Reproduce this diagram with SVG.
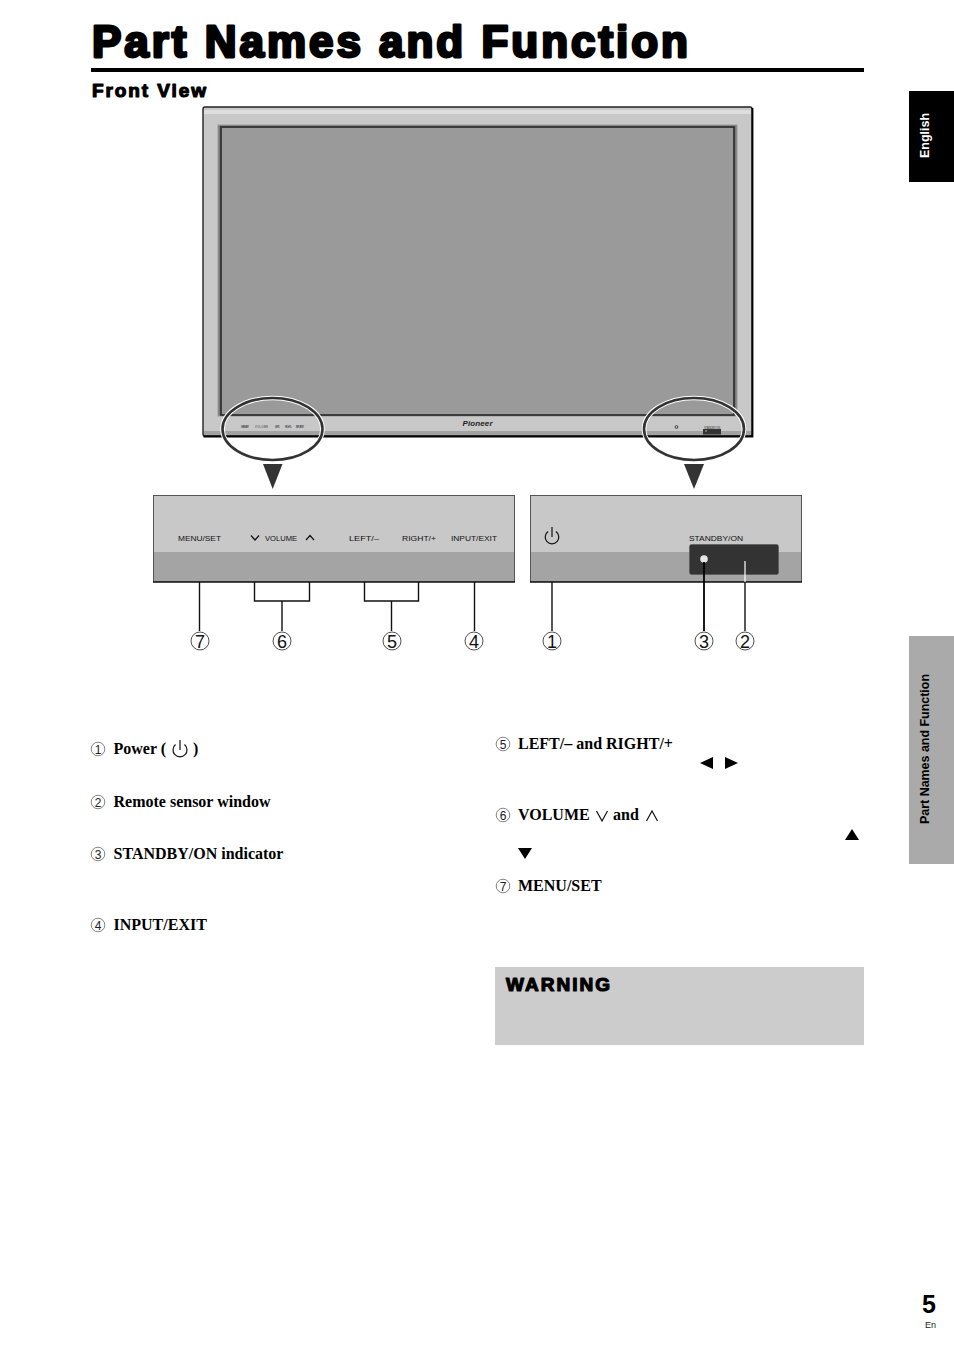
<svg xmlns="http://www.w3.org/2000/svg" width="954" height="1351" viewBox="0 0 954 1351">
<style>
.h{font-family:"Liberation Sans",Arial,sans-serif;font-weight:700;fill:#000;stroke:#000;stroke-linejoin:round}
.b{font-family:"Liberation Serif","Times New Roman",serif;font-weight:700;font-size:16px;fill:#000}
.p{font-family:"Liberation Sans",Arial,sans-serif;font-size:8px;fill:#111}
.t{font-family:"Liberation Sans",Arial,sans-serif;font-size:2.6px;fill:#333}
.n{font-family:"Liberation Sans",Arial,sans-serif;font-size:18px;fill:#111;text-anchor:middle}
.m{font-family:"Liberation Sans",Arial,sans-serif;font-size:12px;fill:#222;text-anchor:middle}
.c{fill:#fff;stroke:#222;stroke-width:.8}
.mc{fill:#fff;stroke:#333;stroke-width:.6}
.l{fill:none;stroke:#111;stroke-width:1.4}
.i{fill:none;stroke:#111;stroke-width:1.2}
.r{fill:none;stroke:#333;stroke-width:2.6}
.w{fill:none;stroke:#fff;stroke-width:4.6}
.s{font-family:"Liberation Sans",Arial,sans-serif;font-weight:700}
</style>
<rect width="954" height="1351" fill="#fff"/>

<g id="heading">
<text class="h" x="92" y="56.500" font-size="44" stroke-width="2.800" textLength="596" lengthAdjust="spacing">Part Names and Function</text>
<rect x="91" y="68" width="773" height="4" fill="#000"/>
<text class="h" x="92" y="97" font-size="19" stroke-width="1.200" textLength="114" lengthAdjust="spacing">Front View</text>
</g>

<g id="side-tabs">
<rect x="909" y="91" width="45" height="91" fill="#000"/>
<text class="s" transform="translate(928.500 158) rotate(-90)" font-size="13" fill="#fff" textLength="45" lengthAdjust="spacingAndGlyphs">English</text>
<rect x="909" y="636" width="45" height="228" fill="#aaa"/>
<text class="s" transform="translate(928.500 824) rotate(-90)" font-size="13" fill="#000" textLength="150" lengthAdjust="spacingAndGlyphs">Part Names and Function</text>
</g>

<g id="tv">
<rect x="203" y="107" width="549" height="329" rx="2" fill="#c8c8c8" stroke="#222" stroke-width="1.400"/>
<rect x="204" y="110" width="547" height="4" fill="#dedede"/>
<rect x="204" y="431" width="547" height="4" fill="#a2a2a2"/>
<path d="M203.500 436.500H752.500V108" fill="none" stroke="#000" stroke-width="1.800"/>
<rect x="218" y="125" width="519" height="291" fill="#777" stroke="#999" stroke-width="1"/>
<rect x="221" y="127" width="513" height="288" fill="#9a9a9a" stroke="#333" stroke-width="1.800"/>
<text class="t" x="241" y="428" textLength="8">MENU/SET</text>
<text class="t" x="255" y="428" textLength="13">VOLUME</text>
<text class="t" x="275" y="428" textLength="5">LEFT/–</text>
<text class="t" x="285" y="428" textLength="7">RIGHT/+</text>
<text class="t" x="296" y="428" textLength="8">INPUT/EXIT</text>
<text x="477.500" y="426" font-family="Liberation Sans,Arial,sans-serif" font-size="8" font-weight="700" font-style="italic" text-anchor="middle" fill="#222" textLength="30">Pioneer</text>
<circle cx="676.500" cy="427" r="1.400" fill="none" stroke="#222" stroke-width=".8"/>
<text class="t" x="704" y="428.500" textLength="16">STANDBY/ON</text>
<rect x="703" y="429" width="18" height="5.500" fill="#333"/>
<circle cx="706" cy="431" r=".7" fill="#ddd"/>
</g>

<g id="callout-left">
<ellipse class="w" cx="272.500" cy="429" rx="50" ry="31"/>
<ellipse class="r" cx="272.500" cy="429" rx="50" ry="31"/>
<path d="M263 464H282.500L272.700 489Z" fill="#333"/>
</g>
<g id="callout-right">
<ellipse class="w" cx="694" cy="429" rx="50" ry="31"/>
<ellipse class="r" cx="694" cy="429" rx="50" ry="31"/>
<path d="M684 464H704L694 489Z" fill="#333"/>
</g>

<g id="panel-left">
<rect x="153.500" y="495.500" width="361" height="86" fill="#c8c8c8" stroke="#555" stroke-width="1"/>
<rect x="154" y="552" width="360" height="29.500" fill="#a4a4a4"/>
<path d="M153 582H515" stroke="#111" stroke-width="1.500"/>
<text class="p" x="178" y="541" textLength="43" lengthAdjust="spacingAndGlyphs">MENU/SET</text>
<path d="M251 535.500L255 540L259 535.500M306 540L310 535.500L314 540" class="i"/>
<text class="p" x="265" y="541" textLength="32" lengthAdjust="spacingAndGlyphs">VOLUME</text>
<text class="p" x="349" y="541" textLength="30" lengthAdjust="spacingAndGlyphs">LEFT/–</text>
<text class="p" x="402" y="541" textLength="34" lengthAdjust="spacingAndGlyphs">RIGHT/+</text>
<text class="p" x="451" y="541" textLength="46" lengthAdjust="spacingAndGlyphs">INPUT/EXIT</text>
</g>

<g id="panel-right">
<rect x="530.500" y="495.500" width="271" height="86" fill="#c8c8c8" stroke="#555" stroke-width="1"/>
<rect x="531" y="552" width="270" height="29.500" fill="#a4a4a4"/>
<path d="M530 582H802" stroke="#111" stroke-width="1.500"/>
<path d="M548 531.500A6.800 6.800 0 1 0 556 531.500M552 527V537" class="i"/>
<text class="p" x="689" y="541" textLength="54" lengthAdjust="spacingAndGlyphs">STANDBY/ON</text>
<rect x="689.500" y="544.500" width="89" height="30" rx="2" fill="#333" stroke="#555" stroke-width=".6"/>
<circle cx="704" cy="559" r="3.800" fill="#e6e6e6"/>
</g>

<g id="connectors">
<path class="l" d="M199.500 582V631"/>
<path class="l" d="M254.500 582V601H309.500V582M282 601V631"/>
<path class="l" d="M364.500 582V601H418.500V582M391.500 601V631"/>
<path class="l" d="M474.500 582V631"/>
<path class="l" d="M552 582V631"/>
<path d="M704 562V631" fill="none" stroke="#000" stroke-width="1.800"/>
<path d="M745 561V582" fill="none" stroke="#fff" stroke-width="1.200"/>
<path class="l" d="M745 582V631"/>
</g>

<g id="callout-7"><circle class="c" cx="200" cy="641" r="9"/><text class="n" x="200" y="647.500">7</text></g>
<g id="callout-6"><circle class="c" cx="282" cy="641" r="9"/><text class="n" x="282" y="647.500">6</text></g>
<g id="callout-5"><circle class="c" cx="392" cy="641" r="9"/><text class="n" x="392" y="647.500">5</text></g>
<g id="callout-4"><circle class="c" cx="474" cy="641" r="9"/><text class="n" x="474" y="647.500">4</text></g>
<g id="callout-1"><circle class="c" cx="552" cy="641" r="9"/><text class="n" x="552" y="647.500">1</text></g>
<g id="callout-3"><circle class="c" cx="704" cy="641" r="9"/><text class="n" x="704" y="647.500">3</text></g>
<g id="callout-2"><circle class="c" cx="745" cy="641" r="9"/><text class="n" x="745" y="647.500">2</text></g>

<g id="item-1"><circle class="mc" cx="98" cy="749" r="6.800"/><text class="m" x="98" y="753.500">1</text>
<text class="b" x="113.500" y="754">Power (</text>
<path d="M175.500 744.500A7 7 0 1 0 184.500 744.500M180 740V750" class="i" stroke-width="1.400"/>
<text class="b" x="193" y="754">)</text></g>
<g id="item-2"><circle class="mc" cx="98" cy="802" r="6.800"/><text class="m" x="98" y="806.500">2</text><text class="b" x="113.500" y="807">Remote sensor window</text></g>
<g id="item-3"><circle class="mc" cx="98" cy="854" r="6.800"/><text class="m" x="98" y="858.500">3</text><text class="b" x="113.500" y="859">STANDBY/ON indicator</text></g>
<g id="item-4"><circle class="mc" cx="98" cy="925" r="6.800"/><text class="m" x="98" y="929.500">4</text><text class="b" x="113.500" y="930">INPUT/EXIT</text></g>

<g id="item-5"><circle class="mc" cx="503" cy="744" r="6.800"/><text class="m" x="503" y="748.500">5</text><text class="b" x="518" y="749">LEFT/– and RIGHT/+</text>
<path d="M700 763L713 757V769ZM738 763L725 757V769Z" fill="#000"/></g>
<g id="item-6"><circle class="mc" cx="503" cy="815" r="6.800"/><text class="m" x="503" y="819.500">6</text><text class="b" x="518" y="820">VOLUME</text>
<path d="M596.500 811L602 821L607.500 811M646.500 821L652 811L657.500 821" class="i" stroke-width=".9"/>
<text class="b" x="613" y="820">and</text>
<path d="M845 840L852 829L859 840ZM518 848H532L525 859Z" fill="#000"/></g>
<g id="item-7"><circle class="mc" cx="503" cy="886" r="6.800"/><text class="m" x="503" y="890.500">7</text><text class="b" x="518" y="891">MENU/SET</text></g>

<g id="warning">
<rect x="495" y="967" width="369" height="78" fill="#ccc"/>
<text class="h" x="506" y="990.500" font-size="19" stroke-width="1.200" textLength="104" lengthAdjust="spacing">WARNING</text>
</g>

<g id="page-number">
<text class="s" x="922" y="1313" font-size="25" fill="#000">5</text>
<text x="925" y="1328" font-family="Liberation Sans,Arial,sans-serif" font-size="9" fill="#222">En</text>
</g>
</svg>
